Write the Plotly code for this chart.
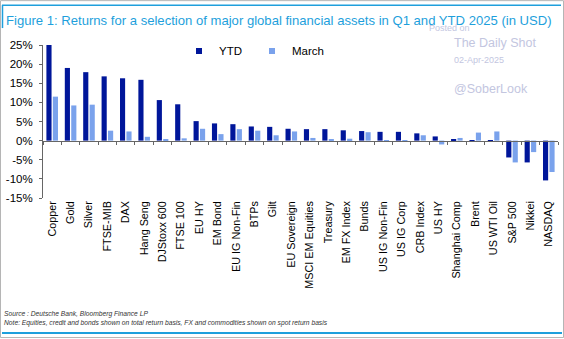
import plotly.graph_objects as go

categories = ["Copper", "Gold", "Silver", "FTSE-MIB", "DAX", "Hang Seng", "DJStoxx 600",
              "FTSE 100", "EU HY", "EM Bond", "EU IG Non-Fin", "BTPs", "Gilt", "EU Sovereign",
              "MSCI EM Equities", "Treasury", "EM FX Index", "Bunds", "US IG Non-Fin",
              "US IG Corp", "CRB Index", "US HY", "Shanghai Comp", "Brent", "US WTI Oil",
              "S&P 500", "Nikkei", "NASDAQ"]
ytd = [25.0, 19.0, 17.9, 16.8, 16.3, 15.9, 10.6, 9.5, 5.1, 4.5, 4.3, 3.7, 3.6, 3.1,
       3.0, 3.0, 2.7, 2.5, 2.3, 2.3, 1.9, 1.1, 0.4, 0.1, -0.3, -4.4, -5.7, -10.4]
march = [11.5, 9.2, 9.4, 2.6, 2.4, 1.0, 0.3, 0.6, 3.1, 1.7, 3.0, 2.6, 1.4, 2.4,
         0.7, 0.2, 0.5, 2.2, 0.1, 0.1, 1.4, -1.0, 0.7, 2.1, 2.4, -5.7, -3.0, -8.2]
y_ticks = [25, 20, 15, 10, 5, 0, -5, -10, -15]
y_tick_labels = [f"{v}%" for v in y_ticks]

DARK = "#00169a"
LIGHT = "#7aa2ec"
FONT = "Liberation Sans"
WM = "#c3c6df"

W, H = 564, 339
L, R, T, B = 43, 6, 45, 140.5
pw, ph = W - L - R, H - T - B


def px(x):
    return (x - L) / pw


def py(y):
    return (H - B - y) / ph


fig = go.Figure()
fig.add_trace(go.Bar(x=categories, y=ytd, name="YTD", marker_color=DARK,
                     marker_line_width=0, showlegend=False))
fig.add_trace(go.Bar(x=categories, y=march, name="March", marker_color=LIGHT,
                     marker_line_width=0, showlegend=False))
# legend entries with small square markers
fig.add_trace(go.Scatter(x=[None], y=[None], mode="markers", name="YTD",
                         marker=dict(symbol="square", size=6, color=DARK)))
fig.add_trace(go.Scatter(x=[None], y=[None], mode="markers", name="March",
                         marker=dict(symbol="square", size=6, color=LIGHT)))
# helper trace for the zero-line category axis
fig.add_trace(go.Scatter(x=categories, y=ytd, xaxis="x2", mode="markers",
                         marker=dict(opacity=0), showlegend=False, hoverinfo="skip"))

fig.update_layout(
    width=W, height=H,
    margin=dict(l=L, r=R, t=T, b=B),
    paper_bgcolor="white", plot_bgcolor="white",
    font=dict(family=FONT, color="#000000"),
    barmode="group", bargap=0.3, bargroupgap=0.2,
    title=dict(text="Figure 1: Returns for a selection of major global financial assets in Q1 and YTD 2025 (in USD)",
               font=dict(family=FONT, size=13.1, color="#1e9fdc"),
               xref="container", yref="container", x=6 / W, xanchor="left",
               y=1 - 20 / H, yanchor="middle"),
    xaxis=dict(type="category", categoryorder="array", categoryarray=categories,
               range=[-0.5, len(categories) - 0.5],
               showline=False, ticks="", showgrid=False, zeroline=False,
               tickangle=-90, tickfont=dict(family=FONT, size=10.8, color="#000000")),
    xaxis2=dict(type="category", categoryorder="array", categoryarray=categories,
                overlaying="x", matches="x", anchor="free", position=15 / 40,
                side="bottom", showline=True, linecolor="#666666", linewidth=1,
                ticks="outside", ticklen=3, tickcolor="#666666", tickson="boundaries",
                showticklabels=False, showgrid=False, zeroline=False),
    yaxis=dict(range=[-15, 25], tickmode="array", tickvals=y_ticks, ticktext=y_tick_labels,
               showline=True, linecolor="#666666", linewidth=1,
               ticks="outside", ticklen=3, tickcolor="#666666", ticklabelstandoff=4,
               showgrid=False, zeroline=False,
               tickfont=dict(family=FONT, size=11.5, color="#000000")),
    legend=dict(orientation="h", x=px(179), xanchor="left", y=py(51), yanchor="middle",
                font=dict(family=FONT, size=11.5, color="#000000"),
                bgcolor="rgba(0,0,0,0)", itemwidth=30,
                entrywidthmode="pixels", entrywidth=28),
    showlegend=True,
)

annos = [
    dict(text="Posted on", x=px(427), y=py(28), size=9),
    dict(text="The Daily Shot", x=px(452), y=py(43), size=12.5),
    dict(text="02-Apr-2025", x=px(452), y=py(60), size=9),
    dict(text="@SoberLook", x=px(452), y=py(89), size=12.5),
]
for a in annos:
    fig.add_annotation(text=a["text"], xref="paper", yref="paper", x=a["x"], y=a["y"],
                       xanchor="left", yanchor="middle", showarrow=False,
                       font=dict(family=FONT, size=a["size"], color=WM))

fig.add_annotation(text="<i>Source : Deutsche Bank, Bloomberg Finance LP</i>",
                   xref="paper", yref="paper", x=px(2), y=py(315), xanchor="left",
                   yanchor="middle", showarrow=False,
                   font=dict(family=FONT, size=6.7, color="#333333"))
fig.add_annotation(text="<i>Note: Equities, credit and bonds shown on total return basis, FX and commodities shown on spot return basis</i>",
                   xref="paper", yref="paper", x=px(2), y=py(324), xanchor="left",
                   yanchor="middle", showarrow=False,
                   font=dict(family=FONT, size=6.7, color="#333333"))

# frame decorations
BLUE = "#1e9fdc"
fig.add_shape(type="rect", xref="paper", yref="paper", x0=px(0.5), x1=px(W - 0.5),
              y0=py(H - 0.5), y1=py(0.5), line=dict(color="#b5b5b5", width=1))
fig.add_shape(type="line", xref="paper", yref="paper", x0=px(2), x1=px(561),
              y0=py(5), y1=py(5), line=dict(color=BLUE, width=1.5))
fig.add_shape(type="line", xref="paper", yref="paper", x0=px(2.5), x1=px(2.5),
              y0=py(5), y1=py(28), line=dict(color=BLUE, width=1.5))
fig.add_shape(type="line", xref="paper", yref="paper", x0=px(2), x1=px(562),
              y0=py(334), y1=py(334), line=dict(color=BLUE, width=2))

fig.write_html("out.html")
